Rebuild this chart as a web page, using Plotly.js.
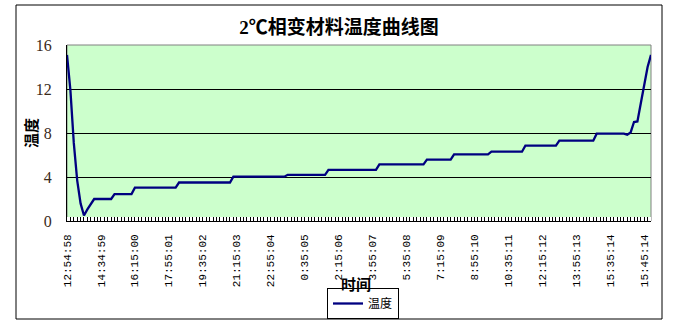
<!DOCTYPE html>
<html>
<head>
<meta charset="utf-8">
<script src="https://cdn.plot.ly/plotly-3.0.1.min.js"></script>
<style>html,body{margin:0;padding:0;background:#fff;}#chart{width:685px;height:325px;}</style>
</head>
<body>
<div id="chart"></div>
<script>
const temperature = [
  15.1, 11.9, 7.1, 3.7, 1.6, 0.5, 1.05, 1.5, 2.0,
  2.0, 2.0, 2.0, 2.0, 2.0,
  2.45, 2.45, 2.45, 2.45, 2.45, 2.45,
  3.03, 3.03, 3.03, 3.03, 3.03, 3.03, 3.03, 3.03, 3.03, 3.03, 3.03, 3.03, 3.03,
  3.5, 3.5, 3.5, 3.5, 3.5, 3.5, 3.5, 3.5, 3.5, 3.5, 3.5, 3.5, 3.5, 3.5, 3.5, 3.5,
  4.03, 4.03, 4.03, 4.03, 4.03, 4.03, 4.03, 4.03, 4.03, 4.03, 4.03, 4.03, 4.03, 4.03, 4.03, 4.03,
  4.2, 4.2, 4.2, 4.2, 4.2, 4.2, 4.2, 4.2, 4.2, 4.2, 4.2, 4.2,
  4.65, 4.65, 4.65, 4.65, 4.65, 4.65, 4.65, 4.65, 4.65, 4.65, 4.65, 4.65, 4.65, 4.65, 4.65,
  5.15, 5.15, 5.15, 5.15, 5.15, 5.15, 5.15, 5.15, 5.15, 5.15, 5.15, 5.15, 5.15, 5.15,
  5.58, 5.58, 5.58, 5.58, 5.58, 5.58, 5.58, 5.58,
  6.06, 6.06, 6.06, 6.06, 6.06, 6.06, 6.06, 6.06, 6.06, 6.06, 6.06,
  6.3, 6.3, 6.3, 6.3, 6.3, 6.3, 6.3, 6.3, 6.3, 6.3,
  6.85, 6.85, 6.85, 6.85, 6.85, 6.85, 6.85, 6.85, 6.85, 6.85,
  7.3, 7.3, 7.3, 7.3, 7.3, 7.3, 7.3, 7.3, 7.3, 7.3, 7.3,
  7.94, 7.94, 7.94, 7.94, 7.94, 7.94, 7.94, 7.94, 7.94,
  7.85, 8.05, 9.0, 9.05, 10.7, 12.5, 14.0, 15.1
];

// Category (time) labels shown on the x axis, one every labelEvery samples
const timeLabels = [
  "12:54:58", "14:34:59", "16:15:00", "17:55:01", "19:35:02", "21:15:03",
  "22:55:04", "0:35:05", "2:15:06", "3:55:07", "5:35:08", "7:15:09",
  "8:55:10", "10:35:11", "12:15:12", "13:55:13", "15:35:14", "15:45:14"
];
const labelEvery = 10;

const seriesName = "温度";
const chartTitle = "2℃相变材料温度曲线图";
const xTitle = "时间";
const yTitle = "温度";
const yTicks = [0, 4, 8, 12, 16];

const sampleIndex = temperature.map((_, i) => i);
const tickPositions = timeLabels.map((_, k) => k * labelEvery);

const W = 685, H = 325;
const M = {l: 67, r: 34, t: 45, b: 104};
const pw = W - M.l - M.r, ph = H - M.t - M.b;
const px = v => (v - M.l) / pw;          // pixel x -> paper x
const py = v => (H - M.b - v) / ph;      // pixel y -> paper y

const trace = {
  x: sampleIndex,
  y: temperature,
  type: 'scatter',
  mode: 'lines',
  name: seriesName,
  line: {color: '#000080', width: 2.3},
  hoverinfo: 'skip'
};

const layout = {
  width: W, height: H,
  margin: M,
  paper_bgcolor: '#ffffff',
  plot_bgcolor: '#ccffcc',
  showlegend: true,
  title: {
    text: '<b>' + chartTitle + '</b>',
    font: {family: 'Liberation Serif, Noto Sans CJK SC, serif', size: 19, color: '#000'},
    x: 339 / W, xref: 'container', xanchor: 'center',
    y: 1 - 27.5 / H, yref: 'container', yanchor: 'middle'
  },
  xaxis: {
    range: [0, temperature.length - 1],
    automargin: false,
    tickmode: 'array',
    tickvals: tickPositions,
    ticktext: timeLabels,
    tickangle: -90,
    tickfont: {family: 'Liberation Mono, DejaVu Sans Mono, monospace', size: 11, color: '#000'},
    ticks: 'inside', ticklen: 4, tickcolor: '#000', tickwidth: 1,
    ticklabelstandoff: 8,
    minor: {dtick: 1, ticks: 'inside', ticklen: 4, tickcolor: '#000', tickwidth: 1, showgrid: false},
    showgrid: false, zeroline: false,
    showline: true, linecolor: '#000', linewidth: 1,
    fixedrange: true
  },
  yaxis: {
    range: [0, 16],
    automargin: false,
    tickmode: 'array',
    tickvals: yTicks,
    ticks: '',
    ticklabelstandoff: 11,
    tickfont: {family: 'Liberation Serif, serif', size: 16, color: '#3a2a1a'},
    showgrid: true, gridcolor: '#000', gridwidth: 1,
    zeroline: false,
    showline: true, linecolor: '#000', linewidth: 1,
    fixedrange: true
  },
  legend: {
    orientation: 'h',
    xref: 'container', yref: 'container',
    x: 363 / W, xanchor: 'center',
    y: 1 - 288 / H, yanchor: 'top',
    bgcolor: '#fff', bordercolor: '#000', borderwidth: 1,
    font: {family: 'Noto Sans CJK SC, sans-serif', size: 12, color: '#000'},
    itemwidth: 30
  },
  annotations: [
    {
      text: '<b>' + xTitle + '</b>',
      xref: 'paper', yref: 'paper',
      x: px(356), y: py(283),
      xanchor: 'center', yanchor: 'middle',
      showarrow: false,
      font: {family: 'Noto Sans CJK SC, sans-serif', size: 15, color: '#000'}
    },
    {
      text: '<b>' + yTitle + '</b>',
      xref: 'paper', yref: 'paper',
      x: px(30), y: py(133),
      xanchor: 'center', yanchor: 'middle',
      textangle: -90,
      showarrow: false,
      font: {family: 'Noto Sans CJK SC, sans-serif', size: 15, color: '#000'}
    }
  ],
  shapes: [
    // plot area border (grey top/right)
    {type: 'rect', xref: 'paper', yref: 'paper', x0: 0, x1: 1, y0: 0, y1: 1,
     line: {color: '#808080', width: 1}, layer: 'below'},
    // white strip behind the category tick marks
    {type: 'rect', xref: 'paper', yref: 'paper', x0: 0, x1: 1, y0: 0, y1: 4 / ph,
     line: {width: 0}, fillcolor: '#ffffff', layer: 'below'},
    // outer chart frame
    {type: 'rect', xref: 'paper', yref: 'paper',
     x0: px(16), x1: px(662), y0: py(319), y1: py(5),
     line: {color: '#000', width: 1}, fillcolor: 'rgba(0,0,0,0)'}
  ]
};

Plotly.newPlot('chart', [trace], layout, {displayModeBar: false, staticPlot: true});
</script>
</body>
</html>
